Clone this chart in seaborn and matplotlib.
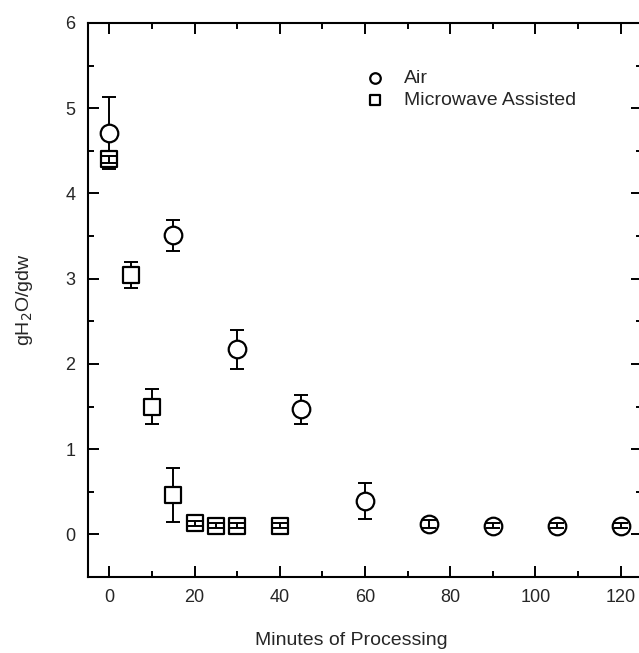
import numpy as np
import pandas as pd
import seaborn as sns
import matplotlib.pyplot as plt
from matplotlib.ticker import MultipleLocator

# values
time_air = [0, 15, 30, 45, 60, 75, 90, 105, 120]
air = [4.71, 3.51, 2.17, 1.47, 0.39, 0.12, 0.10, 0.10, 0.10]
air_err = [0.42, 0.18, 0.23, 0.17, 0.21, 0.05, 0.03, 0.03, 0.03]

time_mw = [0, 5, 10, 15, 20, 25, 30, 40]
mw = [4.40, 3.04, 1.50, 0.46, 0.13, 0.10, 0.10, 0.10]
mw_err = [0.04, 0.15, 0.20, 0.32, 0.03, 0.03, 0.03, 0.03]

sns.set_style('ticks')
plt.rcParams['font.family'] = ['Liberation Sans', 'DejaVu Sans']

fig = plt.figure(figsize=(6.39, 6.53), dpi=100)
ax = fig.add_axes([0.1377, 0.1164, 0.867, 0.8484])

df_air = pd.DataFrame({'t': time_air, 'v': air, 'e': air_err})
df_mw = pd.DataFrame({'t': time_mw, 'v': mw, 'e': mw_err})

kw = dict(fmt='none', ecolor='black', elinewidth=1.4, capsize=4.7, capthick=1.4)
for d in (df_air, df_mw):
    big = d[d.e > 0.1]
    small = d[d.e <= 0.1]
    ax.errorbar(big.t, big.v, yerr=big.e, zorder=2, **kw)
    ax.errorbar(small.t, small.v, yerr=small.e, zorder=5, **kw)

sns.scatterplot(data=df_air, x='t', y='v', marker='o', s=160, facecolor='white',
                edgecolor='black', linewidth=1.6, zorder=3, label='Air', ax=ax)
sns.scatterplot(data=df_mw, x='t', y='v', marker='s', s=125, facecolor='white',
                edgecolor='black', linewidth=1.6, zorder=3, label='Microwave Assisted', ax=ax)

ax.set_xlim(-5, 125)
ax.set_ylim(-0.5, 6)
ax.xaxis.set_major_locator(MultipleLocator(20))
ax.xaxis.set_minor_locator(MultipleLocator(10))
ax.yaxis.set_major_locator(MultipleLocator(1))
ax.yaxis.set_minor_locator(MultipleLocator(0.5))
ax.tick_params(which='both', direction='in', top=True, right=True, width=1.4,
               labelsize=13, pad=9, color='black')
ax.tick_params(which='major', length=8)
ax.tick_params(which='minor', length=4.5)
for s in ax.spines.values():
    s.set_linewidth(1.5)
    s.set_color('black')

ax.set_xlabel('Minutes of Processing', fontsize=14)
ax.set_ylabel('gH$_2$O/gdw', fontsize=14)
ax.xaxis.set_label_coords(0.476, -0.1)
ax.yaxis.set_label_coords(-0.095, 0.5)

ax.legend(loc='upper left', bbox_to_anchor=(0.465, 0.947), frameon=False,
          fontsize=14, markerscale=0.6, handletextpad=0.9, labelspacing=0.2,
          handlelength=1.2)

fig.savefig('out.png', dpi=100)
